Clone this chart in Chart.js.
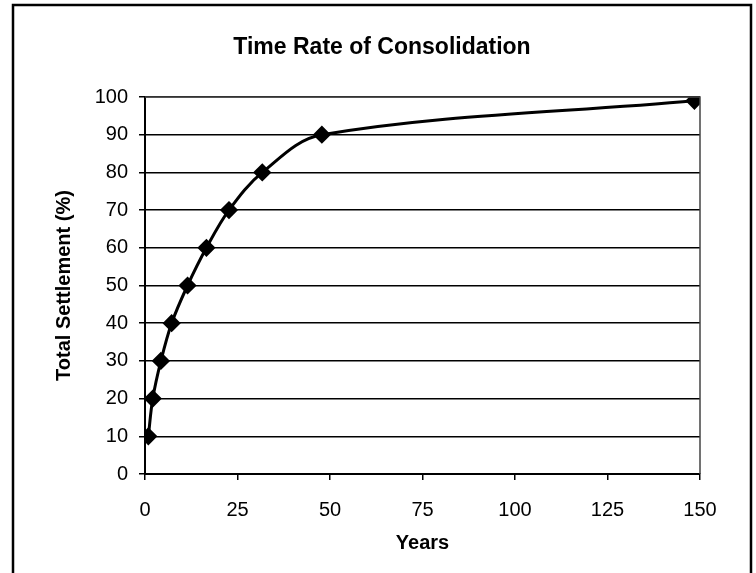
<!DOCTYPE html>
<html lang="en">
<head>
  <meta charset="UTF-8">
  <title>Time Rate of Consolidation</title>
  <style>
    html, body { margin: 0; padding: 0; background: #fff; }
    .chartBox { width: 756px; height: 573px; }
  </style>
</head>
<body>
  <div class="chartBox">
    <canvas id="myChart" width="756" height="573"></canvas>
  </div>

  <script src="https://cdn.jsdelivr.net/npm/chart.js"></script>
  <script>
    // Years vs. total settlement
    const years = [0.9, 2.1, 4.3, 7.2, 11.5, 16.6, 22.7, 31.7, 47.8, 148.5];
    const settlement = [10, 20, 30, 40, 50, 60, 70, 80, 90, 99];
    const xTicks = [0, 25, 50, 75, 100, 125, 150];
    const yTicks = [0, 10, 20, 30, 40, 50, 60, 70, 80, 90, 100];

    const points = years.map((x, i) => ({ x: x, y: settlement[i] }));

    // outer frame + plot area border
    const framePlugin = {
      id: 'frame',
      afterDraw(chart) {
        const ctx = chart.ctx;
        const a = chart.chartArea;
        ctx.save();
        ctx.strokeStyle = '#444';
        ctx.lineWidth = 1.5;
        ctx.beginPath();
        ctx.moveTo(a.left, a.top);
        ctx.lineTo(a.right, a.top);
        ctx.lineTo(a.right, a.bottom);
        ctx.stroke();
        ctx.strokeStyle = '#000';
        ctx.lineWidth = 2.5;
        ctx.beginPath();
        ctx.moveTo(13, 580);
        ctx.lineTo(13, 5);
        ctx.lineTo(751, 5);
        ctx.lineTo(751, 580);
        ctx.stroke();
        ctx.restore();
      }
    };

    const font = "'Liberation Sans', Arial, sans-serif";

    const data = {
      datasets: [{
        label: 'Settlement',
        data: points,
        borderColor: '#000',
        backgroundColor: '#000',
        borderWidth: 3,
        tension: 0.35,
        pointStyle: 'rectRot',
        pointRadius: 7,
        pointBackgroundColor: '#000',
        pointBorderColor: '#000'
      }]
    };

    const config = {
      type: 'line',
      data,
      plugins: [framePlugin],
      options: {
        responsive: false,
        animation: false,
        layout: { padding: { left: 8, right: 0, top: 0, bottom: 0 } },
        plugins: {
          legend: { display: false },
          tooltip: { enabled: false },
          title: {
            display: true,
            text: 'Time Rate of Consolidation',
            color: '#000',
            font: { family: font, size: 23, weight: 'bold' },
            padding: { top: 34, bottom: 35.4 }
          }
        },
        scales: {
          x: {
            type: 'linear',
            min: 0,
            max: 150,
            afterBuildTicks: (axis) => { axis.ticks = xTicks.map(v => ({ value: v })); },
            afterFit: (axis) => { axis.height = 99; },
            grid: { drawOnChartArea: false, drawTicks: true, tickLength: 6, color: '#000', lineWidth: 1.5 },
            border: { color: '#000', width: 2 },
            ticks: { color: '#000', padding: 18, maxRotation: 0, font: { family: font, size: 20 } },
            title: {
              display: true,
              text: 'Years',
              color: '#000',
              font: { family: font, size: 20, weight: 'bold' },
              padding: { top: 0, bottom: 18 }
            }
          },
          y: {
            min: 0,
            max: 100,
            afterBuildTicks: (axis) => { axis.ticks = yTicks.map(v => ({ value: v })); },
            afterFit: (axis) => { axis.width = 137; },
            grid: { color: '#000', lineWidth: 1.5, drawTicks: true, tickLength: 6 },
            border: { color: '#000', width: 2 },
            ticks: { color: '#000', padding: 11, font: { family: font, size: 20 } },
            title: {
              display: true,
              text: 'Total Settlement (%)',
              color: '#000',
              font: { family: font, size: 20, weight: 'bold' },
              padding: { top: 44, bottom: 0 }
            }
          },
          // empty right-hand margin so the title centres over the frame
          yRight: {
            position: 'right',
            min: 0,
            max: 100,
            afterFit: (axis) => { axis.width = 56; },
            grid: { display: false },
            border: { display: false },
            ticks: { display: false }
          }
        }
      }
    };

    const myChart = new Chart(document.getElementById('myChart'), config);
  </script>
</body>
</html>
